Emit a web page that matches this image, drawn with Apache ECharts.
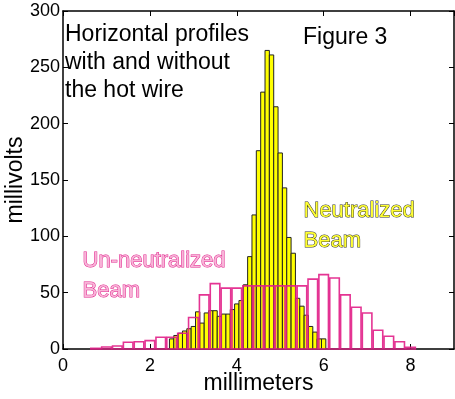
<!DOCTYPE html>
<html>
<head>
<meta charset="utf-8">
<script src="https://cdn.jsdelivr.net/npm/echarts@6/dist/echarts.min.js"></script>
<style>
  html, body { margin: 0; padding: 0; background: #fff; }
  #chart { width: 455px; height: 399px; }
</style>
</head>
<body>
<div id="chart"></div>
<script>
// 未中和束流（粉色空心柱，0.25 mm 一格）
const pinkCenters = [0.75, 1.0, 1.25, 1.5, 1.75, 2.0, 2.25, 2.5, 2.75, 3.0, 3.25, 3.5, 3.75, 4.0, 4.25,
  4.5, 4.75, 5.0, 5.25, 5.5, 5.75, 6.0, 6.25, 6.5, 6.75, 7.0, 7.25, 7.5, 7.75, 8.0]
const pinkValues = [0.6, 1.8, 2.7, 6, 6.5, 7.4, 10.4, 10.4, 14, 28, 48, 58, 54, 54, 56,
  56, 56, 56, 56, 56, 62, 66, 63, 48, 37, 32, 16.6, 11.3, 6.5, 1.5]

// 中和束流（黄色柱，0.1 mm 一格）
const yellowCenters = [2.5, 2.6, 2.7, 2.8, 2.9, 3.0, 3.1, 3.2, 3.3, 3.4, 3.5, 3.6, 3.7, 3.8, 3.9,
  4.0, 4.1, 4.2, 4.3, 4.4, 4.5, 4.6, 4.7, 4.8, 4.9, 5.0, 5.1, 5.2, 5.3, 5.4, 5.5, 5.6, 5.7, 5.8, 5.9, 6.0]
const yellowValues = [9, 12, 14, 16, 18, 20, 33, 23, 32, 34, 34, 29, 31, 31, 35,
  40, 43, 57, 82, 119, 176, 228, 265, 261, 215, 174, 143, 99, 85, 45, 38, 30, 20, 15, 9, 9]

const xTicks = [0, 2, 4, 6, 8]
const yTicks = [0, 50, 100, 150, 200, 250, 300]

const font = 'Liberation Sans, Arial, Helvetica, sans-serif'

// 用坐标轴换算画矩形柱
const barRenderer = (width, style) => (params, api) => {
  const x = api.value(0)
  const y = api.value(1)
  const p0 = api.coord([x - width / 2, y])
  const p1 = api.coord([x + width / 2, 0])
  return {
    type: 'rect',
    shape: { x: p0[0], y: p0[1], width: p1[0] - p0[0], height: p1[1] - p0[1] },
    style: style
  }
}

const axisCommon = {
  axisLine: { show: true, onZero: false, lineStyle: { color: '#000', width: 1.5 } },
  axisTick: { show: true, inside: true, length: 5, lineStyle: { color: '#000' } },
  splitLine: { show: false }
}

const chart = echarts.init(document.getElementById('chart'))

chart.setOption({
  animation: false,
  grid: { left: 63, right: 1, top: 11, bottom: 50, containLabel: false, outerBoundsMode: 'none' },
  xAxis: [
    Object.assign({
      type: 'value', min: 0, max: 9, interval: 2,
      name: 'millimeters', nameLocation: 'middle', nameGap: 23, nameMoveOverlap: false,
      nameTextStyle: { color: '#000', fontSize: 23, fontFamily: font },
      axisLabel: {
        color: '#000', fontSize: 18, fontFamily: font, margin: 8,
        showMaxLabel: false,
        formatter: v => (xTicks.includes(v) ? String(v) : '')
      }
    }, axisCommon),
    Object.assign({
      type: 'value', min: 0, max: 9, interval: 2, position: 'top',
      axisLabel: { show: false }
    }, axisCommon)
  ],
  yAxis: [
    Object.assign({
      type: 'value', min: 0, max: 300, interval: 50,
      name: 'millivolts', nameLocation: 'middle', nameGap: 36, nameMoveOverlap: false,
      nameTextStyle: { color: '#000', fontSize: 23, fontFamily: font },
      axisLabel: {
        color: '#000', fontSize: 18, fontFamily: font, margin: 3,
        formatter: v => (yTicks.includes(v) ? String(v) : '')
      }
    }, axisCommon),
    Object.assign({
      type: 'value', min: 0, max: 300, interval: 50, position: 'right',
      axisLabel: { show: false }
    }, axisCommon)
  ],
  series: [
    {
      name: 'Neutralized Beam',
      type: 'custom',
      data: yellowCenters.map((x, i) => [x, yellowValues[i]]),
      renderItem: barRenderer(0.1, { fill: '#ffff00', stroke: '#222', lineWidth: 1 }),
      z: 2
    },
    {
      name: 'Un-neutralized Beam',
      type: 'custom',
      data: pinkCenters.map((x, i) => [x, pinkValues[i]]),
      renderItem: barRenderer(0.22, { fill: 'none', stroke: 'rgba(225,30,135,0.9)', lineWidth: 1.6 }),
      z: 3
    }
  ],
  graphic: [
    {
      type: 'text', left: 65, top: 21, z: 10,
      style: {
        text: 'Horizontal profiles\nwith and without\nthe hot wire',
        fill: '#000', font: '23px ' + font, lineHeight: 28
      }
    },
    {
      type: 'text', left: 303, top: 26, z: 10,
      style: { text: 'Figure 3', fill: '#000', font: '23px ' + font }
    },
    {
      type: 'text', left: 303, top: 196, z: 10,
      style: {
        text: 'Neutralized\nBeam', fill: '#ffff33', stroke: '#333', lineWidth: 1,
        font: '22px ' + font, lineHeight: 30
      }
    },
    {
      type: 'text', left: 82, top: 246, z: 10,
      style: {
        text: 'Un-neutralized\nBeam', fill: '#f8b4d8', stroke: '#e0208a', lineWidth: 1,
        font: '22px ' + font, lineHeight: 30
      }
    }
  ]
})
</script>
</body>
</html>
